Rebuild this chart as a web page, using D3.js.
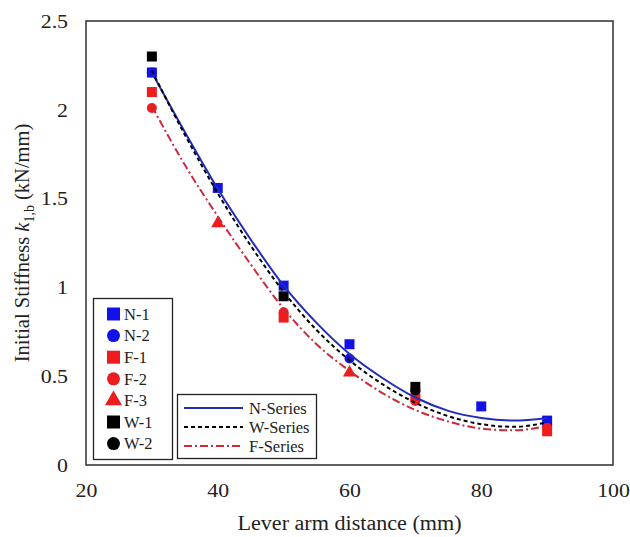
<!DOCTYPE html>
<html>
<head>
<meta charset="utf-8">
<script src="https://cdn.jsdelivr.net/npm/d3@7"></script>
<style>
  body { margin: 0; background: #fff; }
  svg text { font-family: "Liberation Serif", "Times New Roman", serif; fill: #222; }
</style>
</head>
<body>
<div class="chart"></div>
<script>
// tick labels
const xTicks = [20, 40, 60, 80, 100];
const yTicks = [0, 0.5, 1, 1.5, 2, 2.5];

// specimen results [lever arm mm, stiffness kN/mm]
const n1 = [[30, 2.21], [40, 1.56], [50, 1.01], [60, 0.68], [80, 0.33], [90, 0.25]];
const n2 = [[30, 2.21], [60, 0.60], [90, 0.23]];
const f1 = [[30, 2.10], [50, 0.83], [70, 0.38], [90, 0.19]];
const f2 = [[30, 2.01], [50, 0.86], [70, 0.36], [90, 0.21]];
const f3 = [[40, 1.36], [60, 0.52]];
const w1 = [[30, 2.30], [50, 0.95], [70, 0.44]];
const w2 = [[70, 0.42]];

// trendlines
const fitX = [30, 35, 40, 45, 50, 55, 60, 65, 70, 75, 80, 85, 90];
const nFit = [2.21, 1.875, 1.555, 1.27, 1.01, 0.80, 0.625, 0.49, 0.38, 0.305, 0.265, 0.25, 0.265];
const wFit = [2.22, 1.86, 1.53, 1.235, 0.975, 0.76, 0.59, 0.455, 0.35, 0.275, 0.23, 0.215, 0.24];
const fFit = [2.02, 1.69, 1.40, 1.13, 0.88, 0.68, 0.53, 0.405, 0.31, 0.245, 0.205, 0.195, 0.22];

const specimens = [
  {name: 'N-1', data: n1, shape: 'square', color: '#1212e8'},
  {name: 'N-2', data: n2, shape: 'circle', color: '#1212e8'},
  {name: 'F-1', data: f1, shape: 'square', color: '#ee1c1c'},
  {name: 'F-2', data: f2, shape: 'circle', color: '#ee1c1c'},
  {name: 'F-3', data: f3, shape: 'triangle', color: '#ee1c1c'},
  {name: 'W-1', data: w1, shape: 'square', color: '#000'},
  {name: 'W-2', data: w2, shape: 'circle', color: '#000'}
];

const fits = [
  {name: 'N-Series', values: nFit, color: '#1f2db8', dash: null},
  {name: 'W-Series', values: wFit, color: '#000', dash: '4,3'},
  {name: 'F-Series', values: fFit, color: '#cc2a3c', dash: '8,3,2,3'}
];

let w = 630, h = 537;
let margin = {top: 21, right: 17, bottom: 72, left: 86};

let xScale = d3.scaleLinear().domain([20, 100]).range([margin.left, w - margin.right]);
let yScale = d3.scaleLinear().domain([0, 2.5]).range([h - margin.bottom, margin.top]);

let svg = d3.select('.chart').append('svg')
  .attr('width', w)
  .attr('height', h);

// axes (labels only, excel style)
svg.append('g')
  .attr('class', 'x axis')
  .attr('transform', 'translate(0,' + yScale(0) + ')')
  .call(d3.axisBottom(xScale).tickValues(xTicks).tickSize(0).tickPadding(18))
  .call(g => g.select('.domain').remove())
  .selectAll('text')
  .style('font-size', '19.5px')
  .style('font-family', '"Liberation Serif", serif')
  .attr('fill', '#222')
  .attr('transform', 'scale(1.12,1)');

svg.append('g')
  .attr('class', 'y axis')
  .attr('transform', 'translate(' + xScale(20) + ',0)')
  .call(d3.axisLeft(yScale).tickValues(yTicks).tickSize(0).tickPadding(18).tickFormat(d3.format('')))
  .call(g => g.select('.domain').remove())
  .selectAll('text')
  .style('font-size', '19.5px')
  .style('font-family', '"Liberation Serif", serif')
  .attr('fill', '#222')
  .attr('x', 0)
  .attr('transform', 'translate(-18,0) scale(1.12,1)');

// plot frame
svg.append('rect')
  .attr('x', xScale(20))
  .attr('y', yScale(2.5))
  .attr('width', xScale(100) - xScale(20))
  .attr('height', yScale(0) - yScale(2.5))
  .attr('fill', 'none')
  .attr('stroke', '#3a3a3a')
  .attr('stroke-width', 1.6);

const symbolFor = shape => shape === 'square' ? d3.symbolSquare : shape === 'circle' ? d3.symbolCircle : d3.symbolTriangle;
const sizeFor = (shape, s) => shape === 'square' ? s * s : shape === 'circle' ? Math.PI * s * s / 4 : s * s * 0.75;

// markers
specimens.forEach(sp => {
  svg.append('g').selectAll('path')
    .data(sp.data)
    .enter().append('path')
    .attr('transform', d => 'translate(' + xScale(d[0]) + ',' + yScale(d[1]) + ')')
    .attr('d', d3.symbol().type(symbolFor(sp.shape)).size(sizeFor(sp.shape, 10)))
    .attr('fill', sp.color);
});

// trendlines
let line = d3.line()
  .x((d, i) => xScale(fitX[i]))
  .y(d => yScale(d))
  .curve(d3.curveMonotoneX);

fits.forEach(f => {
  svg.append('path')
    .datum(f.values)
    .attr('d', line)
    .attr('fill', 'none')
    .attr('stroke', f.color)
    .attr('stroke-width', 2)
    .attr('stroke-dasharray', f.dash);
});

// specimen legend
let leg1 = svg.append('g');
leg1.append('rect')
  .attr('x', 93.5).attr('y', 298.5).attr('width', 79).attr('height', 161)
  .attr('fill', '#fff').attr('stroke', '#222').attr('stroke-width', 1.3);

specimens.forEach((sp, i) => {
  let y = 314 + i * 21.6;
  leg1.append('path')
    .attr('transform', 'translate(113.5,' + y + ')')
    .attr('d', d3.symbol().type(symbolFor(sp.shape)).size(sizeFor(sp.shape, 13)))
    .attr('fill', sp.color);
  leg1.append('text')
    .attr('x', 124).attr('y', y)
    .attr('dy', '0.35em')
    .style('font-size', '16.5px')
    .text(sp.name);
});

// trendline legend
let leg2 = svg.append('g');
leg2.append('rect')
  .attr('x', 177.5).attr('y', 394.5).attr('width', 139).attr('height', 64)
  .attr('fill', '#fff').attr('stroke', '#222').attr('stroke-width', 1.3);

fits.forEach((f, i) => {
  let y = 408 + i * 19;
  leg2.append('line')
    .attr('x1', 184).attr('x2', 243).attr('y1', y).attr('y2', y)
    .attr('stroke', f.color)
    .attr('stroke-width', 2)
    .attr('stroke-dasharray', f.dash);
  leg2.append('text')
    .attr('x', 249).attr('y', y)
    .attr('dy', '0.35em')
    .style('font-size', '16.5px')
    .text(f.name);
});

// axis titles
svg.append('text')
  .attr('x', (xScale(20) + xScale(100)) / 2)
  .attr('y', 530)
  .attr('text-anchor', 'middle')
  .attr('textLength', 224)
  .attr('lengthAdjust', 'spacingAndGlyphs')
  .style('font-size', '20.5px')
  .text('Lever arm distance (mm)');

let yTitle = svg.append('text')
  .attr('transform', 'translate(29,' + 243 + ') rotate(-90)')
  .attr('text-anchor', 'middle')
  .style('font-size', '20.5px');
yTitle.append('tspan').text('Initial Stiffness ');
yTitle.append('tspan').style('font-style', 'italic').text('k');
yTitle.append('tspan').attr('dy', 5).style('font-size', '14px').text('1,b');
yTitle.append('tspan').attr('dy', -5).text(' (kN/mm)');
</script>
</body>
</html>
